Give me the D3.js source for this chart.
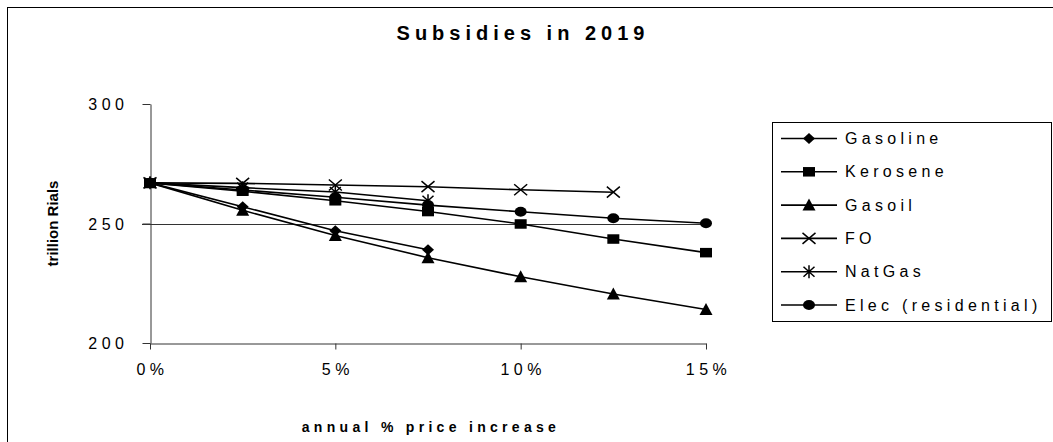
<!DOCTYPE html>
<html>
<head>
<meta charset="utf-8">
<script src="https://cdn.jsdelivr.net/npm/d3@7"></script>
<style>
  html, body { margin: 0; padding: 0; background: #fff; }
  svg { display: block; font-family: "Liberation Sans", Arial, sans-serif; }
</style>
</head>
<body>
<svg id="chart" width="1053" height="442"></svg>
<script>
// Annual price increase steps (x values)
const increases = [0, 0.025, 0.05, 0.075, 0.10, 0.125, 0.15];

// Subsidies in trillion Rials for each fuel
const seriesNames = ["Gasoline", "Kerosene", "Gasoil", "FO", "NatGas", "Elec (residential)"];
const gasoline = [267, 257, 247, 239];
const kerosene = [267, 263.5, 259.5, 255, 249.8, 243.5, 237.8];
const gasoil   = [267, 255.5, 245, 235.7, 227.7, 220.5, 214];
const fo       = [267, 266.8, 266.1, 265.4, 264.1, 263.1];
const natgas   = [267, 265, 263.2, 259.5];
const elec     = [267, 264, 261, 257.7, 254.9, 252.2, 250.1];
const markerTypes = ["diamond", "square", "triangle", "x", "asterisk", "circle"];

const yTicks = [200, 250, 300];
const xTicks = [0, 0.05, 0.10, 0.15];
const gridValues = [250];

const seriesValues = [gasoline, kerosene, gasoil, fo, natgas, elec];

const svg = d3.select("#chart");

// Outer chart frame
svg.append("rect")
  .attr("x", 7.5).attr("y", 7.5)
  .attr("width", 1100).attr("height", 500)
  .attr("fill", "none").attr("stroke", "#000").attr("stroke-width", 1);

const x = d3.scaleLinear().domain([0, 0.15]).range([150, 706]);
const y = d3.scaleLinear().domain([200, 300]).range([343, 104]);

// Horizontal gridline
svg.append("g").selectAll("line").data(gridValues).join("line")
  .attr("x1", 142).attr("x2", x(0.15))
  .attr("y1", d => Math.round(y(d)) + 0.5).attr("y2", d => Math.round(y(d)) + 0.5)
  .attr("stroke", "#333").attr("stroke-width", 1);

// Axes
const yAxis = d3.axisLeft(y).tickValues(yTicks).tickSize(8).tickSizeOuter(0).tickFormat(d3.format("d"));
const gy = svg.append("g").attr("transform", "translate(150.5,0)").call(yAxis);
const xAxis = d3.axisBottom(x).tickValues(xTicks).tickSize(6).tickSizeOuter(0).tickFormat(d => Math.round(d * 100) + "%");
const gx = svg.append("g").attr("transform", "translate(0,343.5)").call(xAxis);

[gy, gx].forEach(g => {
  g.select(".domain").attr("stroke", "#333");
  g.selectAll(".tick line").attr("stroke", "#333");
  g.selectAll(".tick text")
    .attr("fill", "#000")
    .style("font-size", "16px")
    .style("letter-spacing", "4.5px")
    .style("font-family", "'Liberation Sans', Arial, sans-serif");
});
gy.selectAll(".tick text").attr("x", -22).attr("dy", "0.35em");
gx.selectAll(".tick text").attr("y", 20).attr("dx", "2px");

// Axis titles and chart title
svg.append("text")
  .attr("x", 523).attr("y", 40)
  .attr("text-anchor", "middle")
  .style("font-size", "20px").style("font-weight", "bold").style("letter-spacing", "5px")
  .text("Subsidies in 2019");

svg.append("text")
  .attr("x", 431).attr("y", 432)
  .attr("text-anchor", "middle")
  .style("font-size", "14px").style("font-weight", "bold").style("letter-spacing", "4.3px")
  .text("annual % price increase");

svg.append("text")
  .attr("transform", `translate(58,${(y(200) + y(300)) / 2}) rotate(-90)`)
  .attr("text-anchor", "middle")
  .style("font-size", "15px").style("font-weight", "bold")
  .text("trillion Rials");

// Marker drawing
function drawMarker(g, type) {
  switch (type) {
    case "diamond":
      g.append("path").attr("d", "M0,-5.5L6,0L0,5.5L-6,0Z").attr("fill", "#000");
      break;
    case "square":
      g.append("rect").attr("x", -6).attr("y", -4.75).attr("width", 12).attr("height", 9.5).attr("fill", "#000");
      break;
    case "triangle":
      g.append("path").attr("d", "M0,-6.5L6.5,5.5L-6.5,5.5Z").attr("fill", "#000");
      break;
    case "x":
      g.append("path").attr("d", "M-6.5,-5.5L6.5,5.5M-6.5,5.5L6.5,-5.5")
        .attr("stroke", "#000").attr("stroke-width", 1.5).attr("fill", "none");
      break;
    case "asterisk":
      g.append("path").attr("d", "M-5.5,-5L5.5,5M-5.5,5L5.5,-5M0,-6.5L0,6.5")
        .attr("stroke", "#000").attr("stroke-width", 1.5).attr("fill", "none");
      break;
    case "circle":
      g.append("ellipse").attr("rx", 6).attr("ry", 5).attr("fill", "#000");
      break;
  }
}

const line = d3.line().x((d, i) => x(increases[i])).y(d => y(d));

// Series lines and markers
seriesValues.forEach((vals, s) => {
  const g = svg.append("g").attr("class", "series");
  g.append("path")
    .attr("d", line(vals))
    .attr("fill", "none").attr("stroke", "#000").attr("stroke-width", 1.6);
  vals.forEach((v, i) => {
    const m = g.append("g").attr("transform", `translate(${x(increases[i])},${y(v)})`);
    drawMarker(m, markerTypes[s]);
  });
});

// Legend
const legend = svg.append("g");
legend.append("rect")
  .attr("x", 772.5).attr("y", 122.5).attr("width", 279).attr("height", 199)
  .attr("fill", "#fff").attr("stroke", "#000").attr("stroke-width", 1);

seriesNames.forEach((name, i) => {
  const cy = 138.5 + i * 33.3;
  const row = legend.append("g").attr("transform", `translate(0,${cy})`);
  row.append("line").attr("x1", 781).attr("x2", 837).attr("y1", 0).attr("y2", 0)
    .attr("stroke", "#000").attr("stroke-width", 1.6);
  drawMarker(row.append("g").attr("transform", "translate(809,0)"), markerTypes[i]);
  row.append("text").attr("x", 845).attr("y", 0).attr("dy", "0.35em")
    .style("font-size", "16px").style("letter-spacing", "4.3px")
    .text(name);
});
</script>
</body>
</html>
